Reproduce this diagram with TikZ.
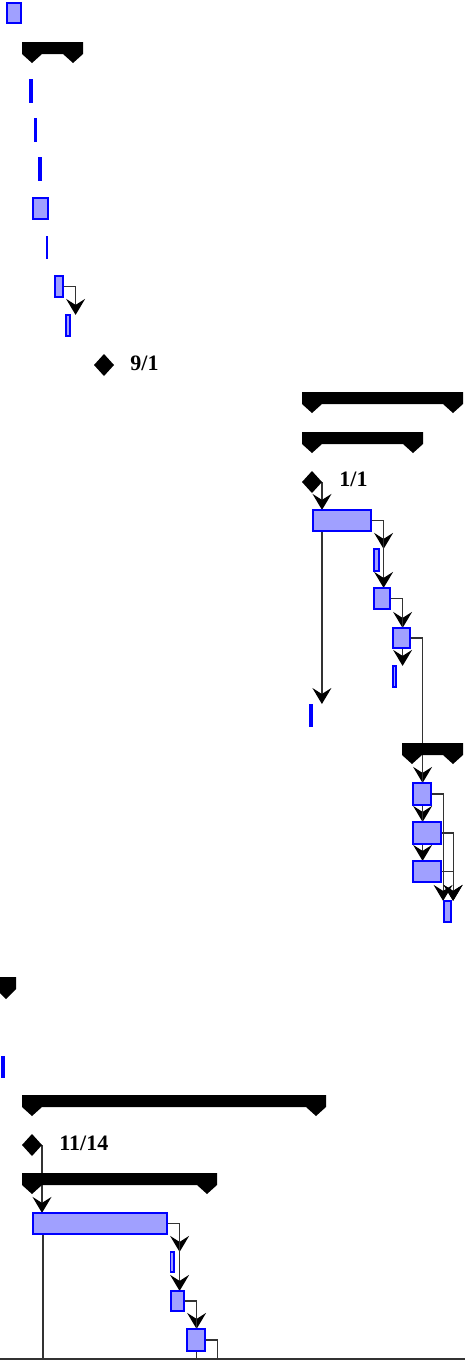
\documentclass[tikz,border=0pt]{standalone}
\usepackage{fontspec}
\setmainfont{Liberation Serif}
\usetikzlibrary{shapes.geometric,arrows.meta,backgrounds}
\definecolor{taskfill}{RGB}{160,160,255}
\definecolor{taskline}{RGB}{0,0,255}
\tikzset{
  taskbox/.style={rectangle, draw=taskline, fill=taskfill, line width=0.9pt, inner sep=0pt, outer sep=0pt},
  thinbar/.style={rectangle, fill=taskline, draw=none, inner sep=0pt, outer sep=0pt},
  conn/.style={draw=black!80, line width=0.6pt, -{Stealth[length=8pt,width=9.5pt,inset=3pt,color=black,fill=black]}},
  mstone/.style={diamond, fill=black, inner sep=0pt, outer sep=0pt, minimum width=10pt, minimum height=11pt},
  mlabel/.style={anchor=base west, inner sep=0pt, font=\fontsize{11}{13}\selectfont\bfseries},
  groupbar/.style={fill=black},
  axisline/.style={draw=black!80, line width=0.8pt}
}
\newcommand\TaskBox[5]{\node[taskbox, minimum width={(#4-#2-1.8)*0.5pt}, minimum height={(#5-#3-1.8)*0.5pt}] (#1) at ({(#2+#4)/2},{(#3+#5)/2}) {};}
\newcommand\TaskLine[5]{\node[thinbar, minimum width={(#4-#2)*0.5pt}, minimum height={(#5-#3)*0.5pt}] (#1) at ({(#2+#4)/2},{(#3+#5)/2}) {};}
\newcommand\GroupBar[3]{\fill[groupbar] (#1,#3) -- (#2,#3) -- (#2,#3+12) -- (#2-10,#3+21) -- (#2-20,#3+12) -- (#1+20,#3+12) -- (#1+10,#3+21) -- (#1,#3+12) -- cycle;}
\begin{document}
\begin{tikzpicture}[x=0.5pt,y=-0.5pt]
\useasboundingbox (0,0) rectangle (465,1360);
\clip (0,0) rectangle (465,1360);

% ---- first block
\TaskBox{T1}{6}{2}{22}{24}
\GroupBar{22}{83}{42}
\TaskLine{L1}{29.3}{79}{33.3}{103}
\TaskLine{L2}{33.7}{118}{37.3}{142}
\TaskLine{L3}{37.7}{157}{41.7}{181}
\TaskBox{T2}{32}{197}{49}{220}
\TaskLine{L4}{45.7}{236}{47.7}{259}
\TaskBox{T3}{54}{275}{64}{298}
\TaskBox{T4}{65}{314}{71}{337}
\node[mstone] (M1) at (104,365) {};
\node[mlabel] (M1l) at (130,370) {9/1};

% ---- second block
\GroupBar{302}{463}{392}
\GroupBar{302}{423}{432}
\node[mstone] (M2) at (312,482) {};
\node[mlabel] (M2l) at (339,486) {1/1};
\TaskBox{T5}{312}{509}{372}{532}
\TaskBox{T6}{373}{548}{380}{572}
\TaskBox{T7}{373}{587}{391}{610}
\TaskBox{T8}{392}{627}{411}{649}
\TaskBox{T9}{392}{665}{397}{688}
\TaskLine{L5}{309}{704}{313}{727}
\GroupBar{402}{463}{743}
\TaskBox{T10}{412}{782}{432}{806}
\TaskBox{T11}{412}{821}{442}{845}
\TaskBox{T12}{412}{860}{442}{883}
\TaskBox{T13}{443}{900}{452}{923}

% ---- third block
\fill[groupbar] (-4,977) -- (16,977) -- (16,989) -- (6,999) -- (-4,989) -- cycle;
\TaskLine{L6}{1}{1056}{5}{1078}
\GroupBar{22}{326}{1095}
\node[mstone] (M3) at (32,1145) {};
\node[mlabel] (M3l) at (59,1150) {11/14};
\GroupBar{22}{217}{1173}
\TaskBox{T14}{32}{1212}{168}{1235}
\TaskBox{T15}{169.5}{1251}{174.5}{1273}
\TaskBox{T16}{170}{1290}{185}{1312}
\TaskBox{T17}{186}{1328}{206}{1352}
\coordinate (E1) at (0,1400);

\draw[axisline] (0,1359) -- (465,1359);

% ---- connectors
\begin{pgfonlayer}{background}
\draw[conn] (T3.east) -| ([xshift=6.25pt]T3.east |- T4.north);
\draw[conn] (M2.east) -- (M2.east |- T5.north);
\draw[conn] (T5.east) -| ([xshift=6.25pt]T5.east |- T6.north);
\draw[conn] (T5.east) -| ([xshift=6.25pt]T5.east |- T7.north);
\draw[conn] (T7.east) -| ([xshift=6.25pt]T7.east |- T8.north);
\draw[conn] (T7.east) -| ([xshift=6.25pt]T7.east |- T9.north);
\draw[conn] ([xshift=4.5pt]T5.south west) -- ([xshift=4.5pt]T5.south west |- L5.north);
\draw[conn] (T8.east) -| ([xshift=6.25pt]T8.east |- T10.north);
\draw[conn] (T8.east) -| ([xshift=6.25pt]T8.east |- T11.north);
\draw[conn] (T8.east) -| ([xshift=6.25pt]T8.east |- T12.north);
\draw[conn] (T10.east) -| ([xshift=6pt]T10.east |- T13.north);
\draw[conn] (T11.east) -| ([xshift=6pt]T11.east |- T13.north);
\draw[conn] (T12.east) -| ([xshift=6pt]T12.east |- T13.north);
\draw[conn] (M3.east) -- (M3.east |- T14.north);
\draw[conn] (T14.east) -| ([xshift=6.25pt]T14.east |- T15.north);
\draw[conn] (T14.east) -| ([xshift=6.25pt]T14.east |- T16.north);
\draw[conn] (T16.east) -| ([xshift=6.25pt]T16.east |- T17.north);
\draw[conn] (T16.east) -| ([xshift=6.25pt]T16.east |- E1);
\draw[conn] (T17.east) -| ([xshift=6pt]T17.east |- E1);
\draw[conn] ([xshift=5pt]T14.south west) -- ([xshift=5pt]T14.south west |- E1);
\end{pgfonlayer}
\end{tikzpicture}
\end{document}
